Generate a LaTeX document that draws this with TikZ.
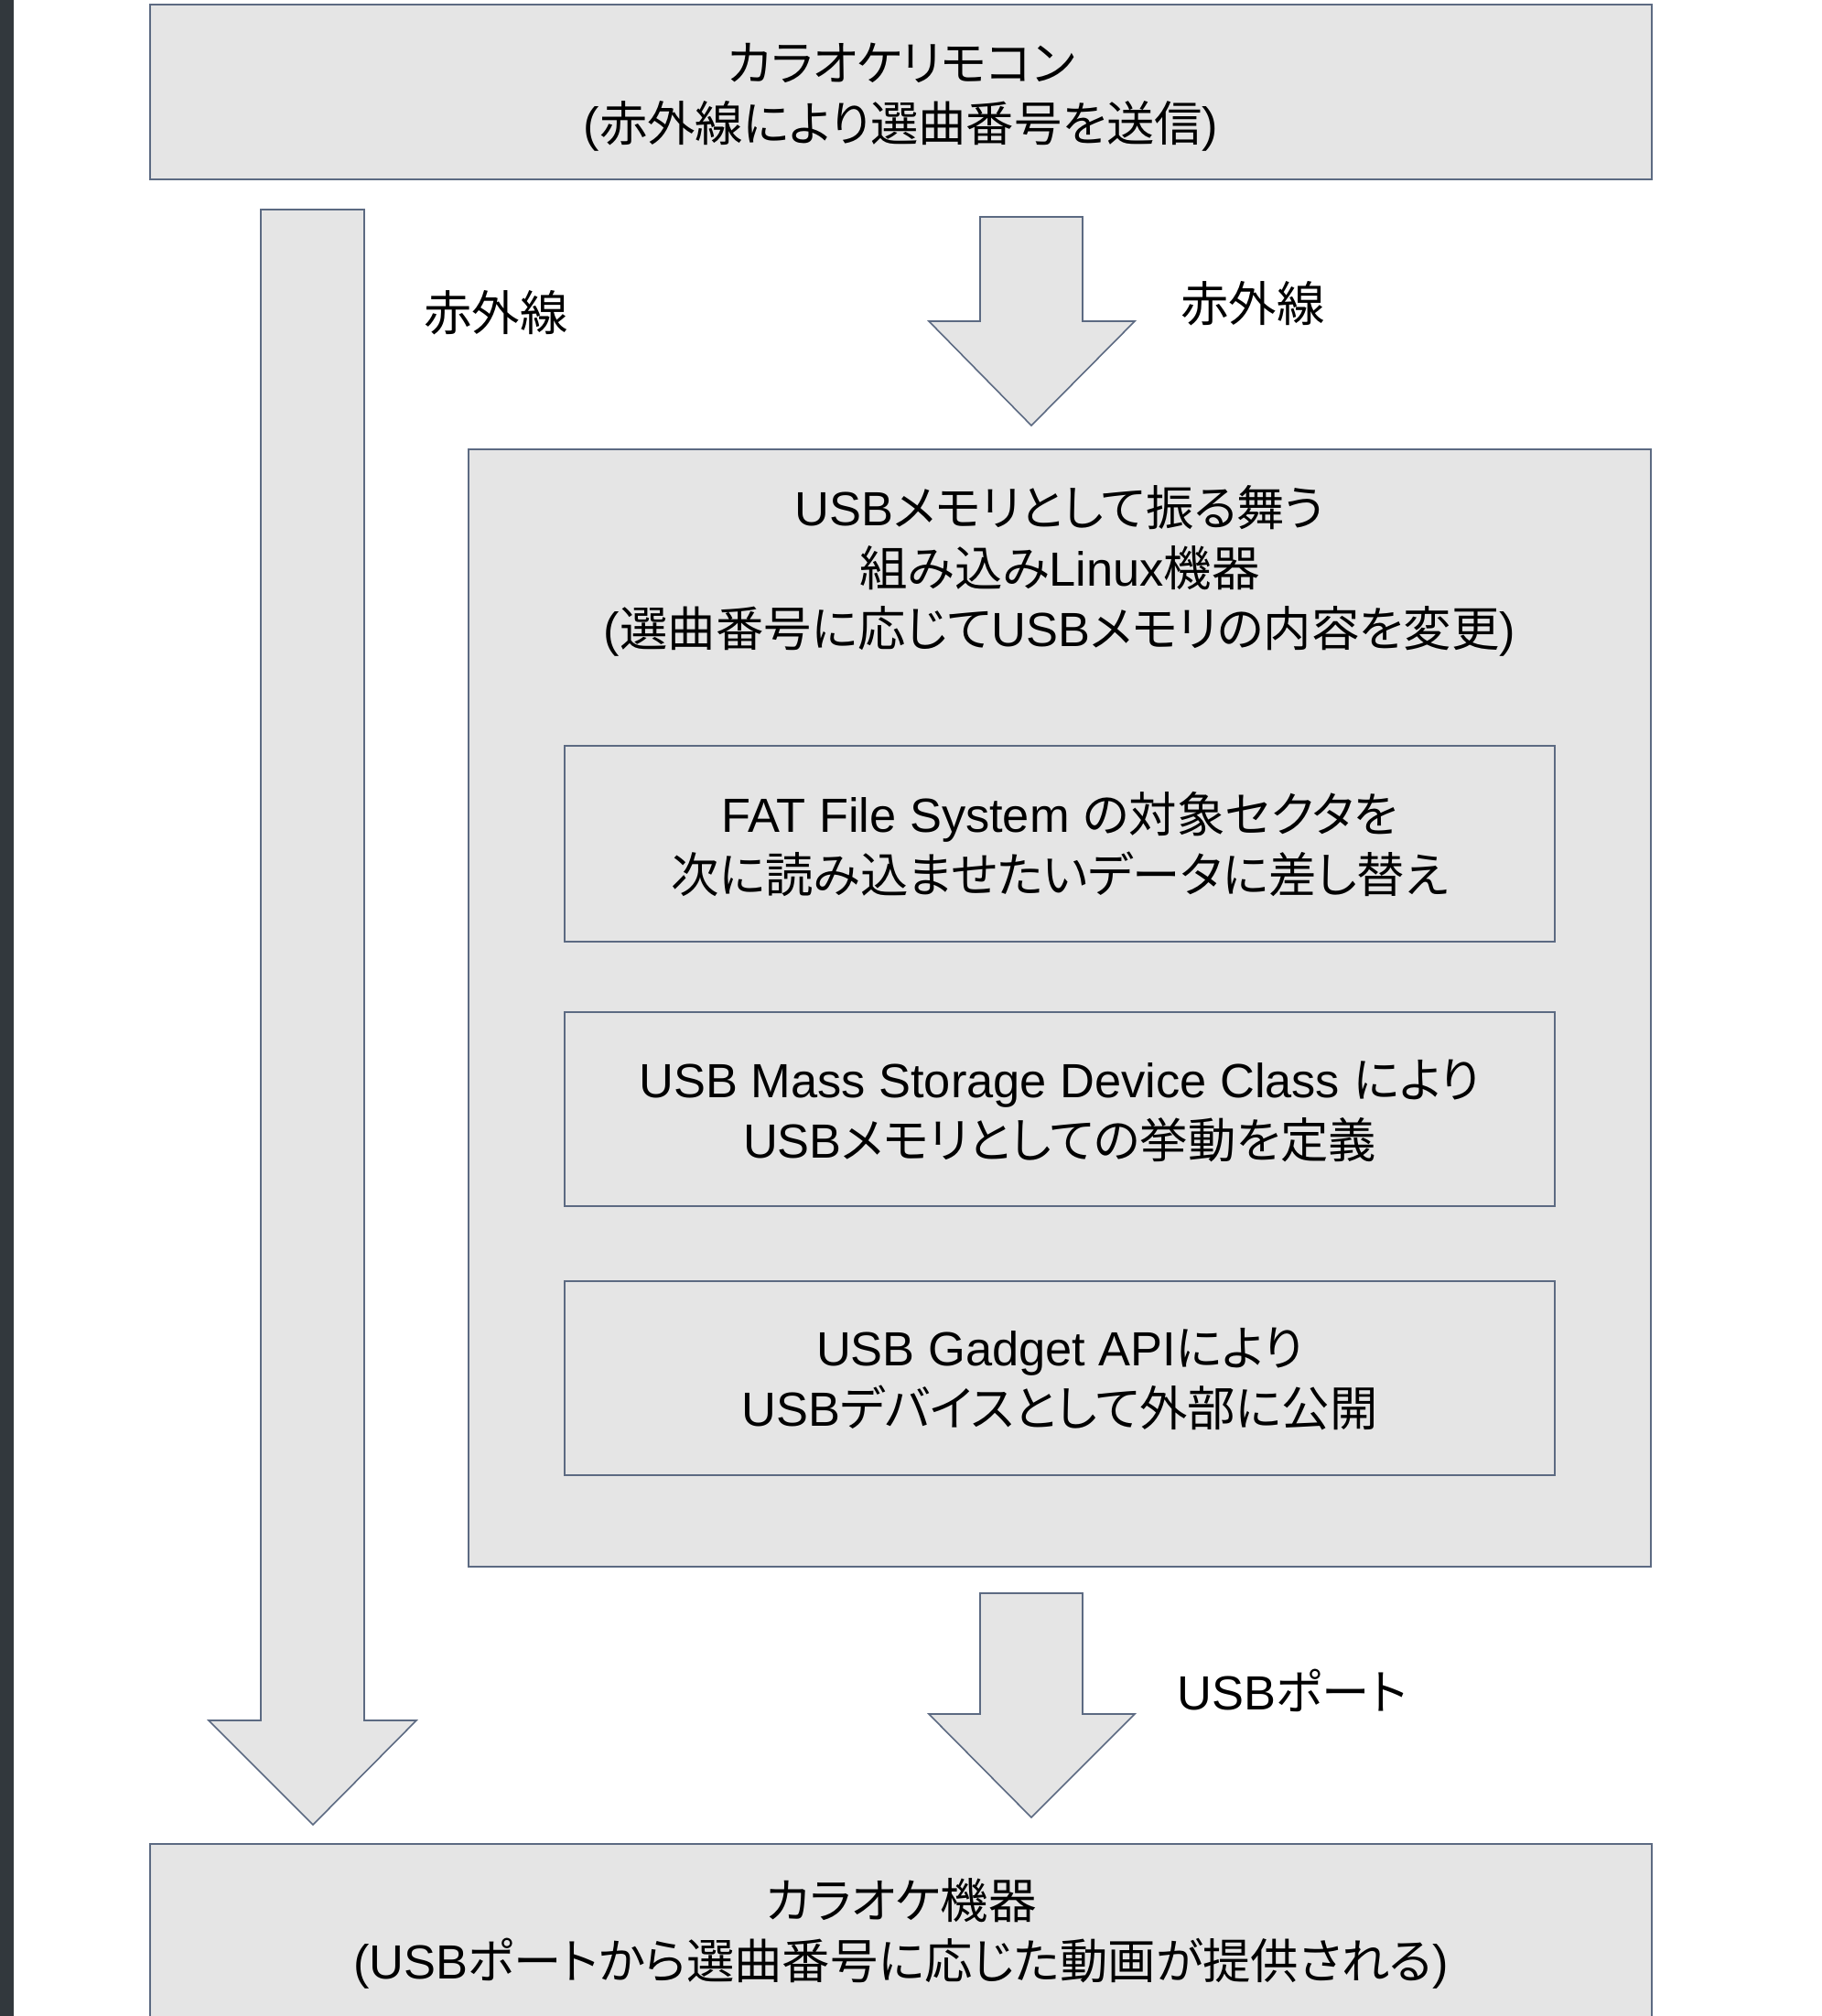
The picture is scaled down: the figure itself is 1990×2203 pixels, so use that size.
\documentclass[tikz,border=0pt]{standalone}
\usepackage{fontspec}
\setmainfont{Noto Sans CJK JP}[RawFeature=+palt]
\newfontfamily\lat{Liberation Sans}
\definecolor{boxfill}{RGB}{229,229,229}
\definecolor{boxline}{RGB}{92,106,130}
\definecolor{sidebar}{RGB}{50,56,61}
\tikzset{
  blk/.style={draw=boxline, fill=boxfill, line width=1pt, rectangle, inner sep=0pt},
  arrowshape/.style={draw=boxline, fill=boxfill, line width=0.8pt, line join=miter},
  txt/.style={align=center, inner sep=0pt, font=\fontsize{26.2pt}{33pt}\selectfont},
}
\begin{document}
\begin{tikzpicture}[x=0.5pt,y=-0.5pt]
\useasboundingbox (0,0) rectangle (1990,2203);
\fill[white] (0,0) rectangle (1990,2203);
\fill[sidebar] (0,0) rectangle (15,2203);
% top box
\node[blk, minimum width=820.5pt, minimum height=95.5pt] (remote) at (984.5,100.5) {};
\node[txt] (remotet) at (984.5,106) {カラオケリモコン\\{\lat(}赤外線により選曲番号を送信{\lat)}};
% middle big box
\node[blk, minimum width=646pt, minimum height=610.5pt] (linux) at (1158,1101.5) {};
\node[txt] (linuxt) at (1158,624) {{\lat USB}メモリとして振る舞う\\組み込み{\lat Linux}機器\\{\lat(}選曲番号に応じて{\lat USB}メモリの内容を変更{\lat)}};
% inner boxes
\node[blk, minimum width=541pt, minimum height=107pt] (fat) at (1158,922) {};
\node[txt] (fatt) at (1158,923) {{\lat FAT File System }の対象セクタを\\次に読み込ませたいデータに差し替え};
\node[blk, minimum width=541pt, minimum height=106pt] (msc) at (1158,1212) {};
\node[txt] (msct) at (1158,1214) {{\lat USB Mass Storage Device Class }により\\{\lat USB}メモリとしての挙動を定義};
\node[blk, minimum width=541pt, minimum height=106pt] (gadget) at (1158,1506) {};
\node[txt] (gadgett) at (1158,1507) {{\lat USB Gadget API}により\\{\lat USB}デバイスとして外部に公開};
% bottom box
\node[blk, minimum width=820.5pt, minimum height=96pt] (karaoke) at (984.5,2111) {};
\node[txt] (karaoket) at (984.5,2112.5) {カラオケ機器\\{\lat(USB}ポートから選曲番号に応じた動画が提供される{\lat)}};
% block arrows
\draw[arrowshape] (285,229) -- (398,229) -- (398,1880) -- (455,1880) -- (342,1994) -- (228,1880) -- (285,1880) -- cycle;
\draw[arrowshape] (1071,237) -- (1183,237) -- (1183,351) -- (1240,351) -- (1127,465) -- (1015,351) -- (1071,351) -- cycle;
\draw[arrowshape] (1071,1741) -- (1183,1741) -- (1183,1873) -- (1240,1873) -- (1127,1986) -- (1015,1873) -- (1071,1873) -- cycle;
% labels
\node[txt] (ir1) at (542,342) {赤外線};
\node[txt] (ir2) at (1369,332) {赤外線};
\node[txt] (usbport) at (1412,1847) {{\lat USB}ポート};
\end{tikzpicture}
\end{document}
